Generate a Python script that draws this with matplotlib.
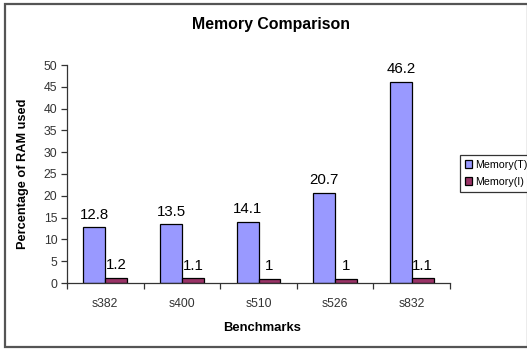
import matplotlib
matplotlib.use("Agg")
import matplotlib.pyplot as plt
import numpy as np
from matplotlib.patches import Rectangle

plt.rcParams['font.family'] = ['Liberation Sans', 'DejaVu Sans']

benchmarks = ["s382", "s400", "s510", "s526", "s832"]
memory_t = [12.8, 13.5, 14.1, 20.7, 46.2]
memory_i = [1.2, 1.1, 1, 1, 1.1]
y_ticks = [0, 5, 10, 15, 20, 25, 30, 35, 40, 45, 50]

W, H = 527, 350
fig = plt.figure(figsize=(W / 100, H / 100), dpi=100)
fig.patch.set_facecolor("white")

# chart-area frame
fig.patches.append(Rectangle((5 / W, 3 / H), 1 - 4 / W, 1 - 7 / H,
                             transform=fig.transFigure, fill=False,
                             edgecolor="#555555", linewidth=1.6))

ax = fig.add_axes([67 / W, 1 - 283 / H, (450 - 67) / W, (283 - 65) / H])

x = np.arange(len(benchmarks))
bw = 1 / 3.5  # gap width 150%
bars_t = ax.bar(x - bw / 2, memory_t, bw, color="#9999FF", edgecolor="black",
                linewidth=0.9, label="Memory(T)")
bars_i = ax.bar(x + bw / 2, memory_i, bw, color="#993366", edgecolor="black",
                linewidth=0.9, label="Memory(I)")

for bars, vals in ((bars_t, memory_t), (bars_i, memory_i)):
    for b, v in zip(bars, vals):
        ax.annotate(f"{v:g}", (b.get_x() + b.get_width() / 2, v),
                    xytext=(0, 4), textcoords="offset points",
                    ha="center", va="bottom", fontsize=10.8, color="black")

ax.set_xlim(-0.5, len(benchmarks) - 0.5)
ax.set_ylim(0, 50)
ax.set_yticks(y_ticks)
ax.set_xticks(x)
ax.set_xticklabels(benchmarks)
ax.set_xticks(np.arange(-0.5, len(benchmarks)), minor=True)
ax.tick_params(axis="x", which="major", length=0, pad=11, labelsize=8.8,
               labelcolor="#333333")
ax.tick_params(axis="x", which="minor", length=4, width=0.9, direction="out",
               color="#333333")
ax.tick_params(axis="y", length=4, width=0.9, direction="out", pad=3,
               labelsize=8.8, labelcolor="#333333", color="#333333")

for s in ("top", "right"):
    ax.spines[s].set_visible(False)
for s in ("left", "bottom"):
    ax.spines[s].set_color("#333333")
    ax.spines[s].set_linewidth(0.9)

ax.set_ylabel("Percentage of RAM used", fontsize=9.2, fontweight="bold")
ax.yaxis.set_label_coords(-0.1, 0.5)
ax.set_xlabel("Benchmarks", fontsize=9.4, fontweight="bold")
ax.xaxis.set_label_coords(0.51, -0.18)

fig.text(271 / W, 1 - 25 / H, "Memory Comparison", ha="center", va="center",
         fontsize=11.4, fontweight="bold")

leg = fig.legend(handles=[bars_t, bars_i], loc="upper left",
                 bbox_to_anchor=(460 / W, 1 - 155 / H), frameon=True,
                 fancybox=False, fontsize=7.7, handlelength=0.7,
                 handleheight=0.7, handletextpad=0.3, borderpad=0.45,
                 labelspacing=0.65, borderaxespad=0)
leg.get_frame().set_edgecolor("black")
leg.get_frame().set_linewidth(0.9)

fig.savefig("out.png", dpi=100, facecolor="white")
